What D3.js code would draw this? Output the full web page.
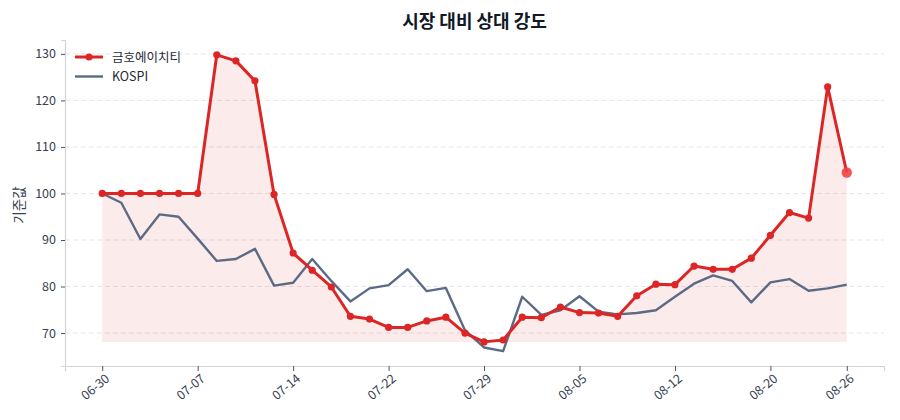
<!DOCTYPE html>
<html><head><meta charset="utf-8">
<script src="https://cdn.jsdelivr.net/npm/d3@7"></script>
<style>body{margin:0;background:#fff;} svg{display:block;font-family:"Noto Sans CJK KR","Noto Sans",sans-serif;}</style>
</head><body><svg id="c" width="900" height="420"></svg>
<script>
const dates = ["06-30","07-01","07-02","07-03","07-04","07-07","07-08","07-09","07-10","07-11",
"07-14","07-15","07-16","07-17","07-18","07-22","07-23","07-24","07-25","07-28",
"07-29","07-30","07-31","08-01","08-04","08-05","08-06","08-07","08-08","08-11",
"08-12","08-13","08-14","08-18","08-19","08-20","08-21","08-22","08-25","08-26"];
const stock = [100,100,100,100,100,100,129.8,128.5,124.2,99.8,
87.2,83.5,79.9,73.6,73.0,71.2,71.2,72.6,73.4,70.0,
68.1,68.5,73.4,73.3,75.6,74.4,74.3,73.6,78.0,80.5,
80.4,84.4,83.7,83.7,86.1,91.0,95.9,94.7,122.9,104.5];
const kospi = [100,98.0,90.2,95.5,95.0,90.3,85.5,85.9,88.1,80.2,
80.8,85.9,81.2,76.8,79.6,80.3,83.7,79.0,79.7,70.6,
66.9,66.1,77.8,73.9,74.9,77.9,74.6,74.0,74.3,74.9,
77.8,80.6,82.4,81.2,76.6,80.9,81.6,79.1,79.6,80.4];
const tickIdx = [0,5,10,15,20,25,30,35,39];
const yTicks = [70,80,90,100,110,120,130];
const seriesNames = ["금호에이치티","KOSPI"];
const title = "시장 대비 상대 강도";
const yLabel = "기준값";

const svg = d3.select("#c");
const L=65, R=884, T=40, B=366;
const n = dates.length;
const x = d3.scaleLinear().domain([-(n-1)*0.05,(n-1)*1.05]).range([L,R]);
const allV = stock.concat(kospi);
const mn=d3.min(allV), mx=d3.max(allV), pad=(mx-mn)*0.05;
const y = d3.scaleLinear().domain([mn-pad,mx+pad]).range([B,T]);
const red="#dc2626", slate="#5b6b85";

// grid
svg.append("g").selectAll("line").data(yTicks).join("line")
 .attr("x1",L).attr("x2",R).attr("y1",d=>y(d)).attr("y2",d=>y(d))
 .attr("stroke","#e5e7eb").attr("stroke-width",1).attr("stroke-dasharray","5,3");

// fill
const base = d3.min(stock);
svg.append("path").datum(stock)
 .attr("d",d3.area().x((d,i)=>x(i)).y0(y(base)).y1(d=>y(d)))
 .attr("fill",red).attr("fill-opacity",0.09);

// axes
const ya = svg.append("g").attr("transform",`translate(${L},0)`)
 .call(d3.axisLeft(y).tickValues(yTicks).tickSize(4).tickPadding(5));
const xa = svg.append("g").attr("transform",`translate(0,${B})`)
 .call(d3.axisBottom(x).tickValues(tickIdx).tickFormat(i=>dates[i]).tickSize(5).tickPadding(4));
[ya,xa].forEach(a=>{
 a.select(".domain").attr("stroke","#d1d5db").attr("stroke-width",1.2);
 a.selectAll(".tick line").attr("stroke","#4b5563");
 a.selectAll(".tick text").attr("fill","#374151").attr("font-size",12.5)
  .attr("font-family","'Noto Sans CJK KR','Noto Sans',sans-serif");
});
xa.selectAll(".tick text").attr("text-anchor","end")
 .attr("transform","translate(1,6) rotate(-40)").attr("dy","0.35em").attr("y",6);

// lines
svg.append("path").datum(kospi)
 .attr("d",d3.line().x((d,i)=>x(i)).y(d=>y(d)))
 .attr("fill","none").attr("stroke",slate).attr("stroke-width",2.4).attr("stroke-linejoin","round");
svg.append("path").datum(stock)
 .attr("d",d3.line().x((d,i)=>x(i)).y(d=>y(d)))
 .attr("fill","none").attr("stroke",red).attr("stroke-width",3).attr("stroke-linejoin","round");
svg.append("g").selectAll("circle").data(stock.slice(0,n-1)).join("circle")
 .attr("cx",(d,i)=>x(i)).attr("cy",d=>y(d)).attr("r",3.6).attr("fill",red);
svg.append("circle").attr("cx",x(n-1)).attr("cy",y(stock[n-1])).attr("r",5.2)
 .attr("fill","#ef4444").attr("fill-opacity",0.9);

// title & labels
svg.append("text").attr("x",(L+R)/2).attr("y",28).attr("text-anchor","middle")
 .attr("font-size",18).attr("font-weight","bold").attr("fill","#111827").text(title);
svg.append("text").attr("transform",`translate(24,${(T+B)/2+2}) rotate(-90)`)
 .attr("text-anchor","middle").attr("font-size",13.5).attr("fill","#374151").text(yLabel);

// legend
const lg = svg.append("g");
const colors=[red,slate];
seriesNames.forEach((s,k)=>{
 const yy = 57 + k*19.5;
 lg.append("line").attr("x1",75).attr("x2",103).attr("y1",yy).attr("y2",yy)
  .attr("stroke",colors[k]).attr("stroke-width",k==0?3:2.4);
 if(k==0) lg.append("circle").attr("cx",89).attr("cy",yy).attr("r",3.6).attr("fill",red);
 lg.append("text").attr("x",112).attr("y",yy+4.5).attr("font-size",12.5).attr("fill","#1f2937").text(s);
});
</script></body></html>
